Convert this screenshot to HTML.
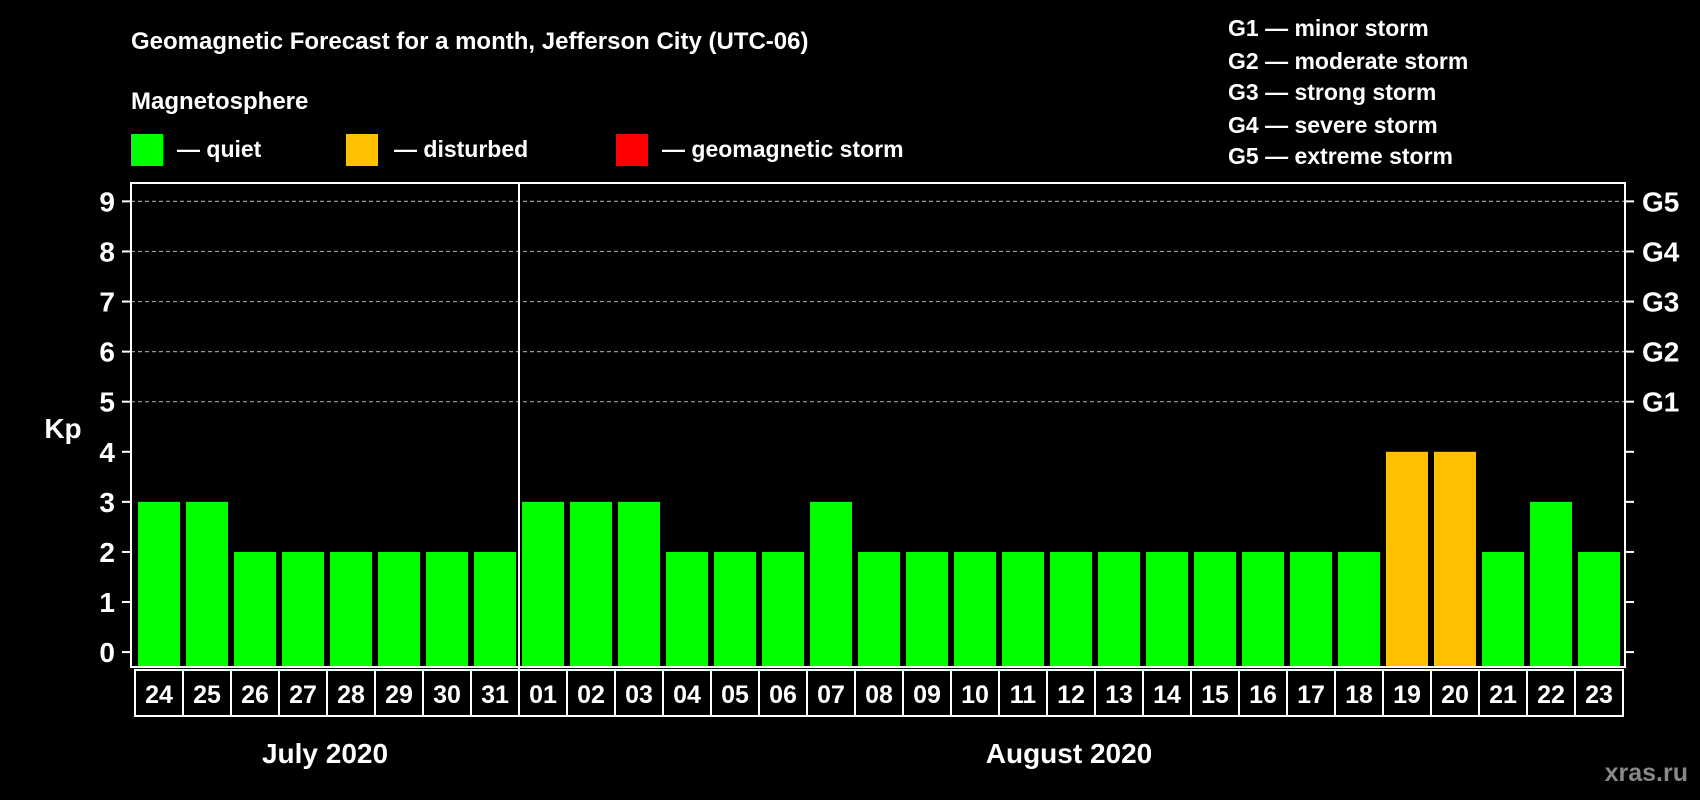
<!DOCTYPE html>
<html><head><meta charset="utf-8"><style>
html,body{margin:0;padding:0;background:#000;}
svg{display:block;font-family:"Liberation Sans",Arial,sans-serif;font-weight:bold;}
</style></head><body>
<svg id="c" width="1700" height="800" viewBox="0 0 1700 800" xmlns="http://www.w3.org/2000/svg">
<rect width="1700" height="800" fill="#000"/>
<text x="131" y="49" fill="#fff" font-size="24">Geomagnetic Forecast for a month, Jefferson City (UTC-06)</text>
<text x="131" y="109" fill="#fff" font-size="24">Magnetosphere</text>
<g><rect x="131" y="134" width="32" height="32" fill="#00ff00"/><text x="177" y="157" fill="#fff" font-size="23">— quiet</text></g>
<g><rect x="346" y="134" width="32" height="32" fill="#ffc000"/><text x="394" y="157" fill="#fff" font-size="23">— disturbed</text></g>
<g><rect x="616" y="134" width="32" height="32" fill="#ff0000"/><text x="662" y="157" fill="#fff" font-size="23">— geomagnetic storm</text></g>
<g fill="#fff" font-size="23">
<text x="1228" y="36">G1 — minor storm</text>
<text x="1228" y="69">G2 — moderate storm</text>
<text x="1228" y="100">G3 — strong storm</text>
<text x="1228" y="133">G4 — severe storm</text>
<text x="1228" y="164">G5 — extreme storm</text>
</g>
<text x="63" y="438" fill="#fff" font-size="28" text-anchor="middle">Kp</text>
<text x="325" y="763" fill="#fff" font-size="28" text-anchor="middle">July 2020</text>
<text x="1069" y="763" fill="#fff" font-size="28" text-anchor="middle">August 2020</text>
<text x="1688" y="781" fill="#888" font-size="25" text-anchor="end">xras.ru</text>
</svg>
<script>
const days=["24","25","26","27","28","29","30","31","01","02","03","04","05","06","07","08","09","10","11","12","13","14","15","16","17","18","19","20","21","22","23"];
const kpValues=[3,3,2,2,2,2,2,2,3,3,3,2,2,2,3,2,2,2,2,2,2,2,2,2,2,2,4,4,2,3,2];
const yTicks=[0,1,2,3,4,5,6,7,8,9];
const gLabels=["G1","G2","G3","G4","G5"];
const svg=document.getElementById('c');
const NS="http://www.w3.org/2000/svg";
const L=131,R=1625,T=183,B=667,slot0=135,slotW=48,barW=42;
function y(v){return 652.1-v*50.08;}
function xs(i){return slot0+i*slotW;}
function mk(t,a,p){const e=document.createElementNS(NS,t);for(const k in a)e.setAttribute(k,a[k]);(p||svg).appendChild(e);return e;}
// gridlines
yTicks.forEach(v=>{
  if(v>=5){const g=mk('line',{x1:L,x2:R,y1:y(v),y2:y(v),stroke:'#999','stroke-width':1.2,'stroke-dasharray':'4,3'});
  
  }
  const t=mk('line',{x1:L-9,x2:L,y1:y(v),y2:y(v),stroke:'#fff','stroke-width':2});
  
  
  const t2=mk('line',{x1:R,x2:R+9,y1:y(v),y2:y(v),stroke:'#fff','stroke-width':2});
  
  
  const lb=mk('text',{x:L-16,y:y(v)+10,fill:'#fff','font-size':28,'text-anchor':'end'});
  lb.textContent=v;
  
  
});
gLabels.forEach((g,i)=>{
  const lb=mk('text',{x:R+17,y:y(5+i)+10,fill:'#fff','font-size':28});
  lb.textContent=g;
  
  
});
kpValues.forEach((v,i)=>{
  const c=v>=5?'#ff0000':(v>=4?'#ffc000':'#00ff00');
  const b=mk('rect',{x:xs(i)+3,y:y(v),width:barW,height:B-y(v),fill:c});
  
  
  const bx=mk('rect',{x:xs(i),y:670,width:slotW,height:46,fill:'none',stroke:'#fff','stroke-width':2});
  
  
  const t=mk('text',{x:xs(i)+slotW/2,y:703,fill:'#fff','font-size':25,'text-anchor':'middle'});
  t.textContent=days[i];
  
  
});
const fr=mk('rect',{x:L,y:T,width:R-L,height:B-T,fill:'none',stroke:'#fff','stroke-width':2});


const sep=days.indexOf("01");
const d=mk('line',{x1:xs(sep),x2:xs(sep),y1:T,y2:716,stroke:'#fff','stroke-width':2});


</script>
</body></html>
